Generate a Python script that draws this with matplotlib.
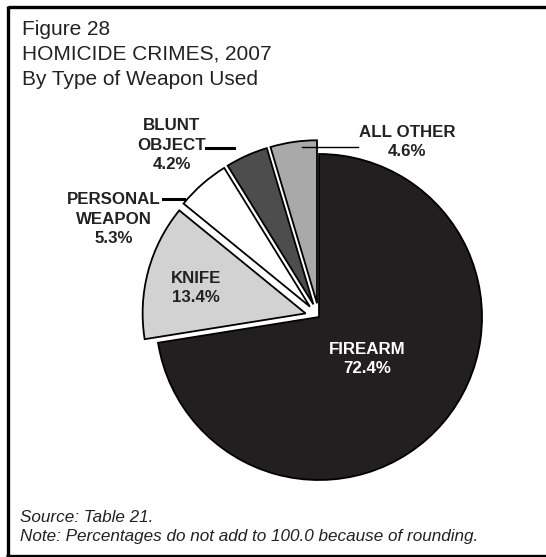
import matplotlib
matplotlib.use("Agg")
import matplotlib.pyplot as plt

W, H = 546, 557

categories = ["FIREARM", "KNIFE", "PERSONAL\nWEAPON", "BLUNT\nOBJECT", "ALL OTHER"]
values = [72.4, 13.4, 5.3, 4.2, 4.6]
colors = ["#231f20", "#d2d2d2", "#ffffff", "#4d4d4d", "#a9a9a9"]
explode_frac = [0.0, 0.085, 0.085, 0.085, 0.085]

title_lines = ["Figure 28", "HOMICIDE CRIMES, 2007", "By Type of Weapon Used"]
footer_lines = ["Source: Table 21.",
                "Note: Percentages do not add to 100.0 because of rounding."]

plt.rcParams['font.family'] = ['Liberation Sans', 'DejaVu Sans']

fig = plt.figure(figsize=(W / 100, H / 100), dpi=100)
ax = fig.add_axes([0, 0, 1, 1])
ax.set_xlim(0, W)
ax.set_ylim(0, H)
ax.set_aspect('equal')
ax.axis('off')

def py(y):
    return H - y

cx, cy, r = 319, 317, 163
ax.pie(values, colors=colors, explode=[e * r for e in explode_frac],
       startangle=90, counterclock=False,
       center=(cx, py(cy)), radius=r, normalize=True,
       wedgeprops=dict(edgecolor='black', linewidth=1.3))
ax.set_xlim(0, W)
ax.set_ylim(0, H)

# frame
ax.plot([7.5, W], [py(7.2), py(7.2)], color='black', lw=2.4, solid_capstyle='butt')
ax.plot([7.5, 7.5], [py(5.7), py(555.5)], color='black', lw=2.4, solid_capstyle='butt')
ax.plot([6, W], [py(555.5), py(555.5)], color='black', lw=2.4, solid_capstyle='butt')

# title
for i, t in enumerate(title_lines):
    ax.text(22, py(35 + 25 * i), t, fontsize=15, ha='left', va='baseline', color='#222222')

# footer
for i, t in enumerate(footer_lines):
    ax.text(20, py(517 + 20 * i), t, fontsize=12.3, style='italic', ha='left',
            va='center', color='#222222')

lab_kw = dict(fontsize=12.2, fontweight='bold', ha='center', va='center',
              linespacing=1.35)
ax.text(367, py(359), f"{categories[0]}\n{values[0]}%", color='white', **lab_kw)
ax.text(196, py(288), f"{categories[1]}\n{values[1]}%", color='#222222', **lab_kw)
ax.text(114, py(219), f"{categories[2]}\n{values[2]}%", color='#222222', **lab_kw)
ax.text(172, py(145), f"{categories[3]}\n{values[3]}%", color='#222222', **lab_kw)
ax.text(407, py(142), f"{categories[4]}\n{values[4]}%", color='#222222', **lab_kw)

# leader lines
ax.plot([163, 184], [py(199), py(199)], color='black', lw=2.2)
ax.plot([206, 234], [py(148), py(148)], color='black', lw=2.2)
ax.plot([302, 358], [py(147), py(147)], color='black', lw=1.0)

fig.savefig("out.png", dpi=100)
